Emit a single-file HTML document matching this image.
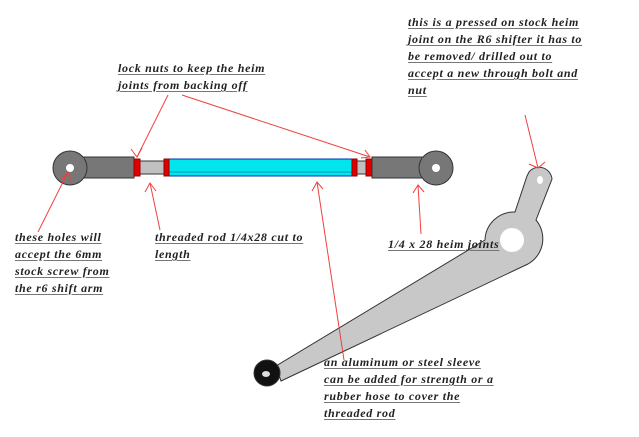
<!DOCTYPE html>
<html><head><style>
body{margin:0;width:639px;height:437px;background:#fff;position:relative;overflow:hidden}
.t{position:absolute;font-family:"Liberation Serif",serif;font-style:italic;font-weight:bold;font-size:12px;line-height:17px;color:#222;white-space:nowrap;letter-spacing:0.7px}
.t span{display:block;text-decoration:underline;text-decoration-color:#777;text-underline-offset:2px}
svg{position:absolute;left:0;top:0}
</style></head><body>
<svg width="639" height="437" viewBox="0 0 639 437">
<g stroke="#333" stroke-width="1">
<rect x="72" y="157" width="62" height="21" fill="#777"/>
<circle cx="70" cy="168" r="17" fill="#777"/>
<rect x="72" y="158" width="12" height="19" fill="#777" stroke="none"/>
<circle cx="70" cy="168" r="4" fill="#fff" stroke="none"/>
<rect x="140" y="161" width="25" height="13" fill="#c0c0c0"/>
<rect x="357" y="161" width="10" height="13" fill="#c0c0c0"/>
<rect x="169" y="159" width="183" height="17" fill="#00e5ee" stroke="#0033aa"/>
<line x1="169" y1="172" x2="352" y2="172" stroke="#0099bb"/>
<rect x="134" y="159" width="6" height="17" fill="#e00000" stroke="#900"/>
<rect x="164" y="159" width="5" height="17" fill="#e00000" stroke="#900"/>
<rect x="352" y="159" width="5" height="17" fill="#e00000" stroke="#900"/>
<rect x="366" y="159" width="6" height="17" fill="#e00000" stroke="#900"/>
<rect x="372" y="157" width="62" height="21" fill="#777"/>
<circle cx="436" cy="168" r="17" fill="#777"/>
<rect x="422" y="158" width="12" height="19" fill="#777" stroke="none"/>
<circle cx="436" cy="168" r="4" fill="#fff" stroke="none"/>
<path d="M529,172 A13,13 0 0 1 552,179 L536,220 A29,29 0 0 1 528,264 L281,381 L276,366 L485,240 A29,29 0 0 1 515,212 L527,176 Z" fill="#c8c8c8"/>
<circle cx="512" cy="240" r="12" fill="#fff" stroke="none"/>
<ellipse cx="540" cy="180" rx="3" ry="4" fill="#fff" stroke="none"/>
<circle cx="267" cy="373" r="13" fill="#111"/>
<ellipse cx="266" cy="374" rx="4" ry="3" fill="#ddd" stroke="none"/>
</g>
<g stroke="#f04040" stroke-width="1" fill="none">
<line x1="168" y1="95" x2="137" y2="157"/><path d="M131,149 L137,157 L142,148"/>
<line x1="182" y1="95" x2="370" y2="157"/><path d="M361,158 L370,157 L365,150"/>
<line x1="38" y1="232" x2="68" y2="172"/><path d="M62,179 L68,172 L71,181"/>
<line x1="160" y1="230" x2="150" y2="183"/><path d="M145,192 L150,183 L156,191"/>
<line x1="344" y1="360" x2="317" y2="182"/><path d="M312,191 L317,182 L323,189"/>
<line x1="421" y1="234" x2="418" y2="185"/><path d="M413,193 L418,185 L424,192"/>
<line x1="525" y1="115" x2="538" y2="168"/><path d="M529,164 L538,168 L545,162"/>
</g>
</svg>
<div class="t" style="left:118px;top:60px"><span>lock nuts to keep the heim</span><span>joints from backing off</span></div>
<div class="t" style="left:408px;top:14px"><span>this is a pressed on stock heim</span><span>joint on the R6 shifter it has to</span><span>be removed/ drilled out to</span><span>accept a new through bolt and</span><span>nut</span></div>
<div class="t" style="left:15px;top:229px"><span>these holes will</span><span>accept the 6mm</span><span>stock screw from</span><span>the r6 shift arm</span></div>
<div class="t" style="left:155px;top:229px"><span>threaded rod 1/4x28 cut to</span><span>length</span></div>
<div class="t" style="left:388px;top:236px"><span>1/4 x 28 heim joints</span></div>
<div class="t" style="left:324px;top:354px"><span>an aluminum or steel sleeve</span><span>can be added for strength or a</span><span>rubber hose to cover the</span><span>threaded rod</span></div>
</body></html>
